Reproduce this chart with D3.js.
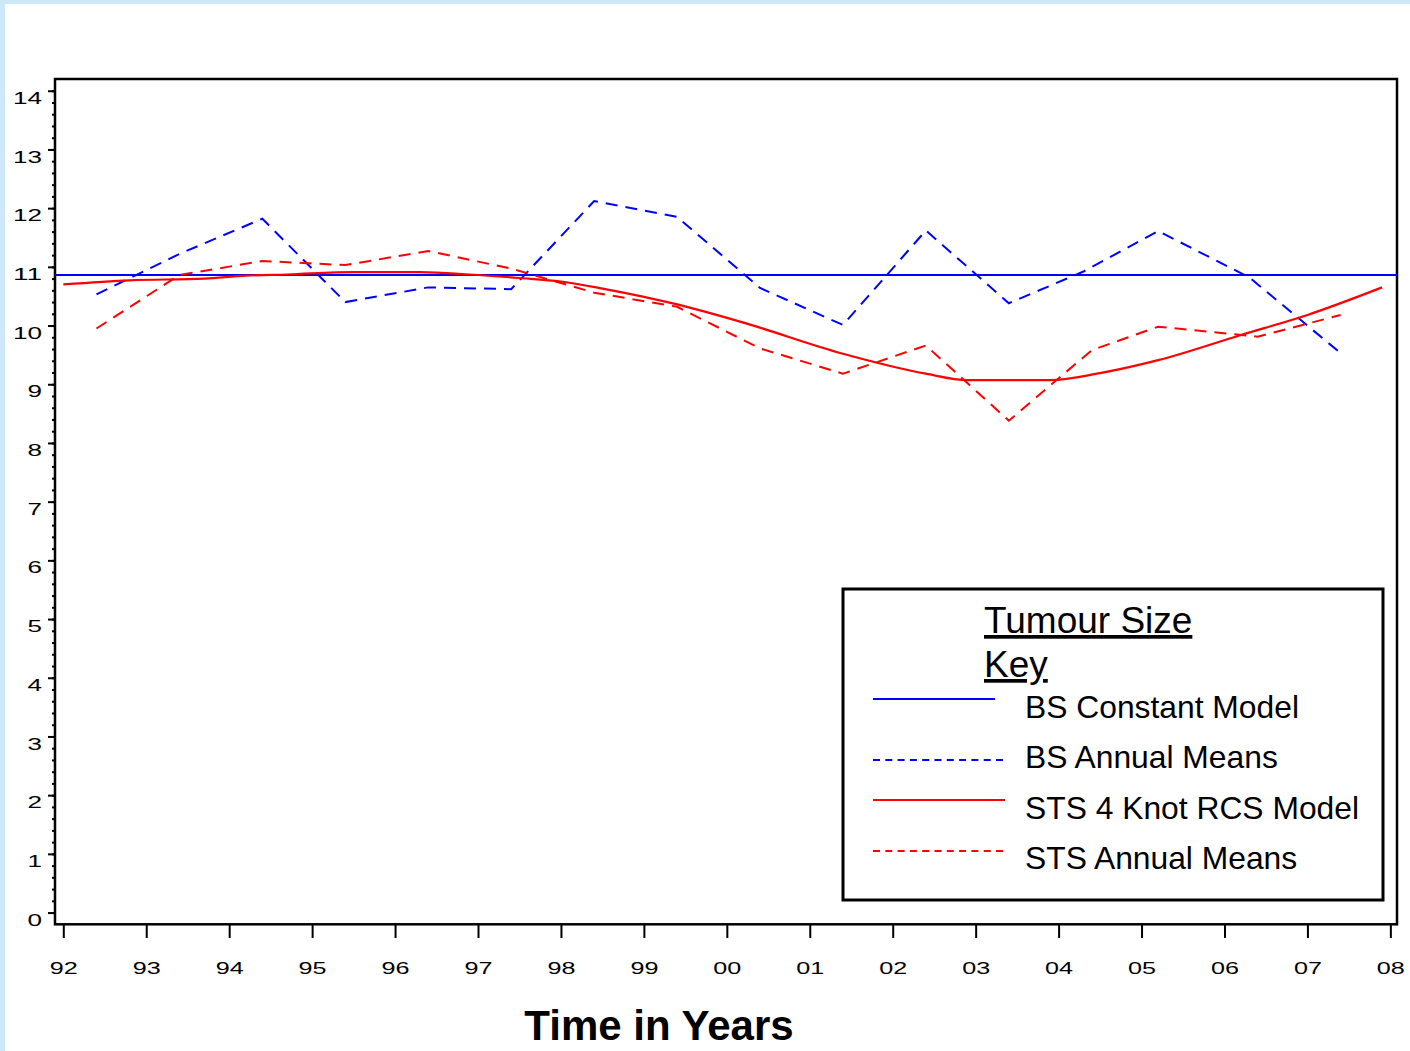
<!DOCTYPE html>
<html>
<head>
<meta charset="utf-8">
<script src="https://cdn.jsdelivr.net/npm/d3@7"></script>
<style>
  body { margin: 0; background: #cce8fa; }
  svg { display: block; font-family: "Liberation Sans", Arial, sans-serif; }
</style>
</head>
<body>
<div id="chart"></div>
<script>
// annual means are plotted at the mean date inside each year
var bsYears  = [1992.4, 1993.4, 1994.4, 1995.4, 1996.4, 1997.4, 1998.4, 1999.4, 2000.4, 2001.4, 2002.4, 2003.4, 2004.3, 2005.2, 2006.3, 2007.4];
var bsMeans  = [10.53, 11.22, 11.82, 10.40, 10.65, 10.62, 12.12, 11.85, 10.64, 10.01, 11.62, 10.38, 10.92, 11.61, 10.82, 9.53];
var bsConstant = 10.86;

var stsYears = [1992.4, 1993.4, 1994.4, 1995.4, 1996.4, 1997.4, 1998.4, 1999.4, 2000.4, 2001.4, 2002.4, 2003.4, 2004.4, 2005.2, 2006.4, 2007.4];
var stsMeans = [9.95, 10.86, 11.10, 11.03, 11.27, 10.97, 10.56, 10.32, 9.61, 9.18, 9.66, 8.38, 9.58, 9.98, 9.81, 10.18];

// 4 knot restricted cubic spline fit
var rcsYears = [1992.0, 1992.8, 1993.7, 1994.2, 1994.7, 1995.5, 1996.3, 1996.9, 1997.5, 1998.0, 1998.5, 1999.4, 2000.2, 2001.4, 2002.4, 2002.9, 2003.9, 2004.5, 2005.2, 2006.2, 2007.0, 2007.9];
var rcsFit   = [10.70, 10.77, 10.80, 10.85, 10.87, 10.91, 10.91, 10.87, 10.81, 10.75, 10.63, 10.36, 10.05, 9.52, 9.18, 9.07, 9.07, 9.19, 9.41, 9.84, 10.18, 10.65];

var yearTicks = d3.range(1992, 2009);
var sizeTicks = d3.range(0, 15);
var legendLabels = ["BS Constant Model", "BS Annual Means", "STS 4 Knot RCS Model", "STS Annual Means"];

var W = 1410, H = 1051;
var plotL = 55, plotR = 1397, plotT = 79, plotB = 924.3;

var svg = d3.select("#chart").append("svg")
    .attr("width", W)
    .attr("height", H);

// white page inside the light blue border
svg.append("rect")
    .attr("x", 5).attr("y", 4)
    .attr("width", W - 5).attr("height", H - 4)
    .style("fill", "white");

var x = d3.scaleLinear().domain([1991.9, 2008.08]).range([plotL, plotR]);
var y = d3.scaleLinear().domain([-0.2, 14.2]).range([plotB, plotT]);

// y axis: minor ticks then major ticks with labels
svg.append("g")
    .attr("transform", "translate(" + plotL + ",0)")
    .call(d3.axisLeft(y).tickValues(d3.range(0, 14.01, 0.2)).tickSize(3).tickFormat(""))
    .call(function(g) { g.select(".domain").remove(); })
    .selectAll("line").style("stroke", "black").style("stroke-width", 2);

var yAxis = svg.append("g")
    .attr("transform", "translate(" + plotL + ",0)")
    .call(d3.axisLeft(y).tickValues(sizeTicks).tickSize(7).tickPadding(6));
yAxis.select(".domain").remove();
yAxis.selectAll("line").style("stroke", "black").style("stroke-width", 2);
yAxis.selectAll("text")
    .attr("dy", "0.74em")
    .style("font-size", "17px")
    .style("fill", "black")
    .attr("textLength", function(d) { return String(d).length * 14.5; })
    .attr("lengthAdjust", "spacingAndGlyphs");

var xAxis = svg.append("g")
    .attr("transform", "translate(0," + (plotB + 0.7) + ")")
    .call(d3.axisBottom(x).tickValues(yearTicks).tickSize(13).tickPadding(24)
      .tickFormat(function(d) { return String(d % 100).padStart(2, "0"); }));
xAxis.select(".domain").remove();
xAxis.selectAll("line").style("stroke", "black").style("stroke-width", 2);
xAxis.selectAll("text")
    .style("font-size", "17px")
    .style("fill", "black")
    .attr("textLength", 28)
    .attr("lengthAdjust", "spacingAndGlyphs");

// frame
svg.append("rect")
    .attr("x", plotL).attr("y", plotT)
    .attr("width", plotR - plotL).attr("height", plotB - plotT)
    .style("fill", "none")
    .style("stroke", "black")
    .style("stroke-width", 2.5);

var line = d3.line()
    .x(function(d) { return x(d[0]); })
    .y(function(d) { return y(d[1]); });

// BS constant model
svg.append("line")
    .attr("x1", plotL).attr("x2", plotR)
    .attr("y1", y(bsConstant)).attr("y2", y(bsConstant))
    .style("stroke", "blue").style("stroke-width", 2);

svg.append("path")
    .datum(d3.zip(bsYears, bsMeans))
    .attr("d", line)
    .style("fill", "none").style("stroke", "blue")
    .style("stroke-width", 2).style("stroke-dasharray", "12,8");

svg.append("path")
    .datum(d3.zip(rcsYears, rcsFit))
    .attr("d", line.curve(d3.curveMonotoneX))
    .style("fill", "none").style("stroke", "red")
    .style("stroke-width", 2.2);
line.curve(d3.curveLinear);

svg.append("path")
    .datum(d3.zip(stsYears, stsMeans))
    .attr("d", line)
    .style("fill", "none").style("stroke", "red")
    .style("stroke-width", 2).style("stroke-dasharray", "12,8");

// legend
var leg = svg.append("g");
leg.append("rect")
    .attr("x", 843).attr("y", 589)
    .attr("width", 540).attr("height", 311)
    .style("fill", "white")
    .style("stroke", "black")
    .style("stroke-width", 3);

leg.selectAll("text.title").data(["Tumour Size", "Key"]).enter()
  .append("text")
    .attr("class", "title")
    .attr("x", 984)
    .attr("y", function(d, i) { return 633 + 44 * i; })
    .style("font-size", "37px")
    .style("text-decoration", "underline")
    .text(function(d) { return d; });

var legColors = ["blue", "blue", "red", "red"];
var legDash = ["none", "7,5.3", "none", "7,5.3"];
var legLineY = [699, 760, 800, 851];
var legLineEnd = [995, 1005, 1005, 1005];

leg.selectAll("line.key").data(legendLabels).enter()
  .append("line")
    .attr("class", "key")
    .attr("x1", 873)
    .attr("x2", function(d, i) { return legLineEnd[i]; })
    .attr("y1", function(d, i) { return legLineY[i]; })
    .attr("y2", function(d, i) { return legLineY[i]; })
    .style("stroke", function(d, i) { return legColors[i]; })
    .style("stroke-width", 2)
    .style("stroke-dasharray", function(d, i) { return legDash[i]; });

leg.selectAll("text.key").data(legendLabels).enter()
  .append("text")
    .attr("class", "key")
    .attr("x", 1025)
    .attr("y", function(d, i) { return 718 + 50.3 * i; })
    .style("font-size", "31.8px")
    .text(function(d) { return d; });

// x title
svg.append("text")
    .attr("x", 659).attr("y", 1040)
    .attr("text-anchor", "middle")
    .style("font-size", "42px")
    .style("font-weight", "bold")
    .text("Time in Years");
</script>
</body>
</html>
